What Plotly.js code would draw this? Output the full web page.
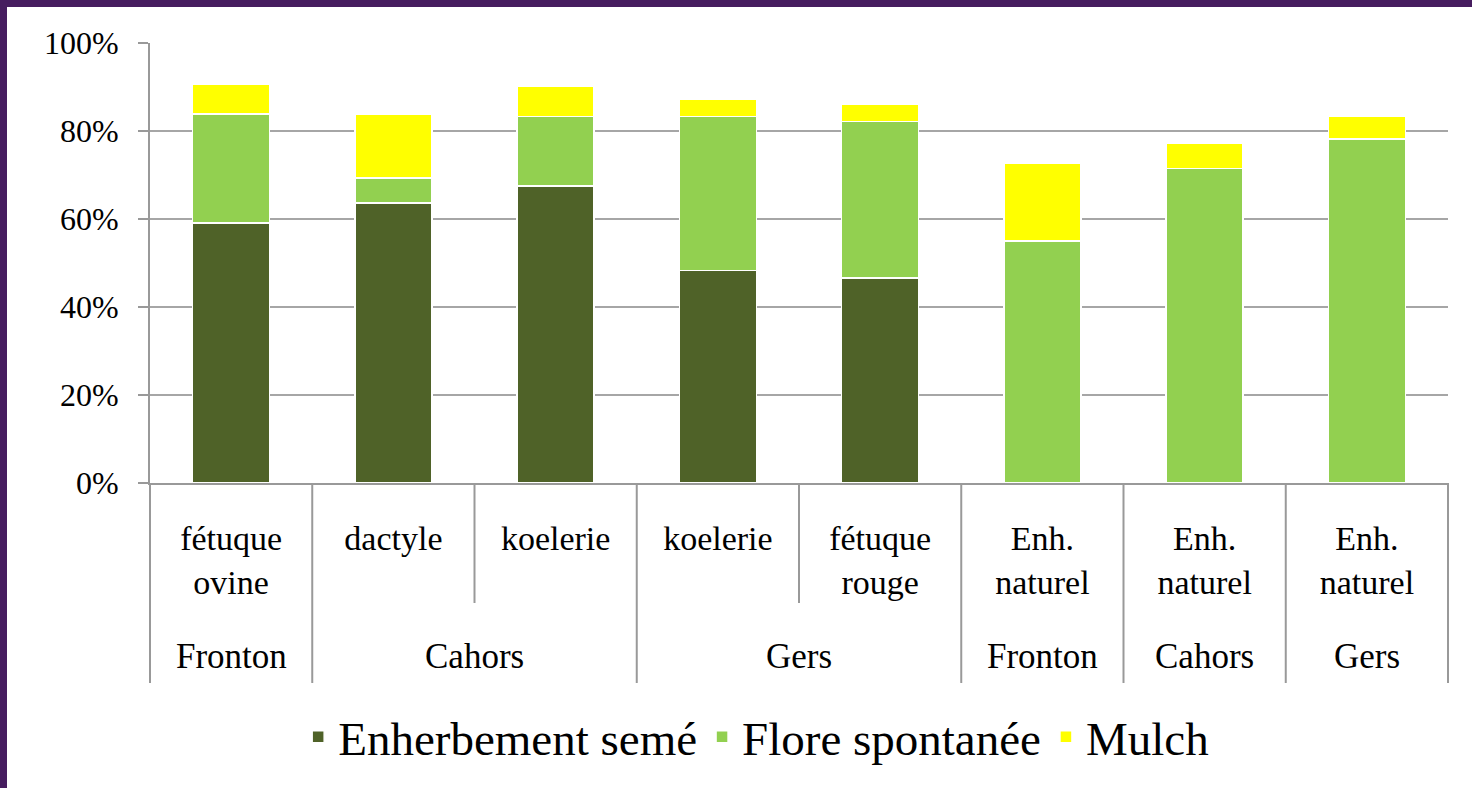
<!DOCTYPE html>
<html>
<head>
<meta charset="utf-8">
<script src="https://cdn.plot.ly/plotly-3.0.1.min.js"></script>
<style>
  html, body { margin: 0; padding: 0; width: 1472px; height: 788px; overflow: hidden; background: #461d5f; }
  #chart { position: absolute; left: 7px; top: 7px; width: 1465px; height: 781px; background: #ffffff; }
</style>
</head>
<body>
<div id="chart"></div>
<script>
// ---- Data ----
const sites  = ['Fronton', 'Cahors', 'Cahors', 'Gers', 'Gers', 'Fronton', 'Cahors', 'Gers'];
const covers = ['fétuque<br>ovine', 'dactyle', 'koelerie', 'koelerie', 'fétuque<br>rouge', 'Enh.<br>naturel', 'Enh.<br>naturel', 'Enh.<br>naturel'];
const enherbementSeme = [59.1, 63.6, 67.5, 48.3, 46.6, 0, 0, 0];
const floreSpontanee  = [24.8, 5.7, 15.8, 35.0, 35.6, 55.0, 71.5, 78.2];
const mulch           = [6.8, 14.6, 6.8, 4.0, 3.9, 17.6, 5.7, 5.1];
const seriesNames = ['Enherbement semé', 'Flore spontanée', 'Mulch'];
const yTicks = [0, 20, 40, 60, 80, 100];
const yTickText = ['0%', '20%', '40%', '60%', '80%', '100%'];

// ---- Styling ----
const FONT = 'Liberation Serif';
const colors = ['#4f6228', '#92d050', '#ffff00'];
const GRID = '#a6a6a6';
const AXIS = '#999999';

const keys = sites.map((s, i) => i + '|' + s + '|' + covers[i]);
const seriesValues = [enherbementSeme, floreSpontanee, mulch];

const traces = seriesValues.map((vals, k) => ({
  type: 'bar',
  name: seriesNames[k],
  x: keys,
  y: vals,
  marker: { color: colors[k], line: { color: '#ffffff', width: 1.5 } },
  hoverinfo: 'name+y'
}));

// dividers between categories below the axis
const n = keys.length;
const shapes = [];
for (let b = 0; b <= n; b++) {
  const isGroupEdge = (b === 0 || b === n || sites[b] !== sites[b - 1]);
  shapes.push({
    type: 'line', xref: 'x domain', yref: 'y domain',
    x0: b / n, x1: b / n, y0: 0, y1: isGroupEdge ? -0.4545 : -0.2727,
    line: { color: AXIS, width: 2 }
  });
}

// group labels (runs of consecutive identical sites)
const annotations = [];
let start = 0;
for (let i = 1; i <= n; i++) {
  if (i === n || sites[i] !== sites[start]) {
    annotations.push({
      xref: 'x', yref: 'y domain',
      x: (start + i - 1) / 2, y: -0.395,
      text: sites[start], showarrow: false,
      xanchor: 'center', yanchor: 'middle',
      font: { family: FONT, size: 35, color: '#000000' }
    });
    start = i;
  }
}

const layout = {
  width: 1465, height: 781,
  margin: { l: 143, r: 24, t: 36, b: 305 },
  paper_bgcolor: '#ffffff', plot_bgcolor: '#ffffff',
  barmode: 'stack',
  bargap: 0.525,
  font: { family: FONT, color: '#000000' },
  showlegend: true,
  legend: {
    orientation: 'h', x: 0.467, xanchor: 'center', y: -0.578, yanchor: 'middle',
    font: { family: FONT, size: 47, color: '#000000' },
    traceorder: 'normal', itemwidth: 30
  },
  xaxis: {
    type: 'category',
    tickmode: 'array', tickvals: keys, ticktext: covers,
    showline: true, linecolor: AXIS, linewidth: 2,
    ticks: '', showgrid: false,
    tickfont: { family: FONT, size: 34, color: '#000000' },
    ticklabelstandoff: 24,
    range: [-0.5, n - 0.5], fixedrange: true
  },
  yaxis: {
    range: [0, 100], tickmode: 'array', tickvals: yTicks, ticktext: yTickText,
    showgrid: true, gridcolor: GRID, gridwidth: 2,
    showline: true, linecolor: AXIS, linewidth: 2,
    ticks: 'outside', ticklen: 10, tickwidth: 2, tickcolor: AXIS,
    tickfont: { family: FONT, size: 32, color: '#000000' },
    ticklabelstandoff: 13,
    zeroline: false, fixedrange: true
  },
  shapes: shapes,
  annotations: annotations
};

Plotly.newPlot('chart', traces, layout, { displayModeBar: false });
</script>
</body>
</html>
